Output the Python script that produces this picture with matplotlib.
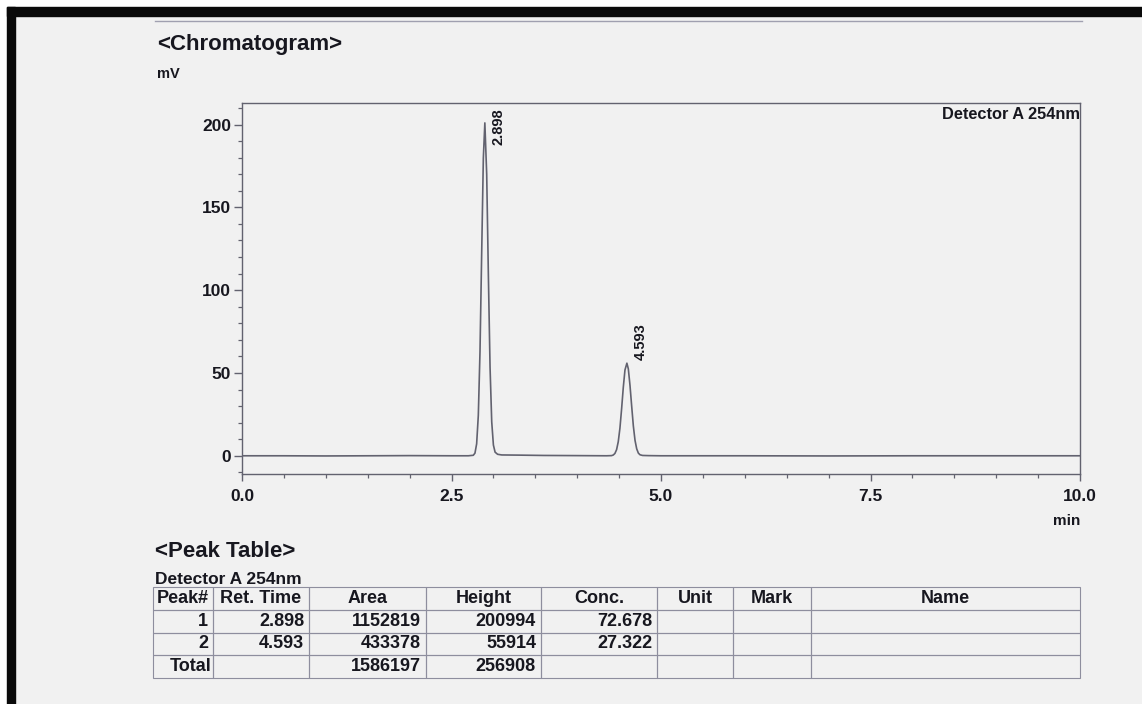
import matplotlib
matplotlib.use('Agg')
import matplotlib.pyplot as plt
from matplotlib.patches import Rectangle
from matplotlib.lines import Line2D
from matplotlib.ticker import MultipleLocator, FormatStrFormatter

plt.rcParams['font.family'] = ['Liberation Sans', 'DejaVu Sans']
plt.rcParams['font.weight'] = 'bold'

# peak table values
peak_no = ['1', '2']
ret_time = [2.898, 4.593]
area = [1152819, 433378]
height = [200994, 55914]
conc = [72.678, 27.322]
headers = ['Peak#', 'Ret. Time', 'Area', 'Height', 'Conc.', 'Unit', 'Mark', 'Name']

# detector A trace (min, mV)
trace_t = [0.00, 0.50, 1.00, 1.50, 2.00, 2.50, 2.70, 2.76, 2.78, 2.80,
           2.82, 2.84, 2.86, 2.88, 2.898, 2.92, 2.94, 2.96, 2.98, 3.00,
           3.02, 3.05, 3.10, 3.30, 3.60, 4.00, 4.35, 4.41, 4.43, 4.45,
           4.47, 4.49, 4.51, 4.53, 4.55, 4.57, 4.593, 4.61, 4.63, 4.65,
           4.67, 4.69, 4.71, 4.73, 4.75, 4.78, 4.85, 5.00, 6.00, 7.00,
           8.00, 9.00, 10.00]
trace_mv = [0.0, 0.0, -0.1, 0.0, 0.1, 0.0, 0.0, 0.3, 1.6, 7.2,
            24.4, 62.7, 121.9, 179.7, 200.994, 170.0, 109.0, 53.5, 20.5, 6.5,
            2.2, 0.9, 0.5, 0.4, 0.2, 0.1, 0.0, 0.1, 0.45, 1.4,
            3.7, 8.5, 16.7, 28.4, 41.3, 51.8, 55.914, 52.5, 42.5, 30.0,
            18.0, 9.3, 4.2, 1.6, 0.6, 0.2, 0.1, 0.0, 0.0, -0.1,
            0.0, 0.0, 0.0]

ink = '#17171f'
line_col = '#62626f'
paper = '#f1f1f1'
W, H = 1142, 704

fig = plt.figure(figsize=(W / 100, H / 100), dpi=100, facecolor=paper)

# scan edges
fig.add_artist(Rectangle((0, 0), 7 / W, 1, transform=fig.transFigure, color='white', zorder=0))
fig.add_artist(Rectangle((0, 1 - 7 / H), 1, 7 / H, transform=fig.transFigure, color='white', zorder=0))
fig.add_artist(Rectangle((7 / W, 0), 8 / W, 1 - 7 / H, transform=fig.transFigure, color='#0a0a0a'))
fig.add_artist(Rectangle((7 / W, 1 - 16 / H), 1, 9 / H, transform=fig.transFigure, color='#0a0a0a'))
fig.add_artist(Line2D([155 / W, 1082 / W], [1 - 21 / H, 1 - 21 / H], transform=fig.transFigure,
                      color='#a0a0b0', lw=1))

# chromatogram
ax = fig.add_axes([242 / W, 1 - 474 / H, (1080 - 242) / W, (474 - 103) / H])
ax.set_facecolor('none')
ax.plot(trace_t, trace_mv, color=line_col, lw=1.2)
ax.set_xlim(0, 10)
ax.set_ylim(-11, 213)

ax.xaxis.set_major_locator(MultipleLocator(2.5))
ax.xaxis.set_minor_locator(MultipleLocator(0.5))
ax.xaxis.set_major_formatter(FormatStrFormatter('%.1f'))
ax.yaxis.set_major_locator(MultipleLocator(50))
ax.yaxis.set_minor_locator(MultipleLocator(10))
ax.yaxis.set_major_formatter(FormatStrFormatter('%d'))
ax.tick_params(axis='x', which='major', direction='out', length=5, width=1,
               color=line_col, labelcolor=ink, labelsize=12.5, pad=6)
ax.tick_params(axis='y', which='major', direction='out', length=6, width=1,
               color=line_col, labelcolor=ink, labelsize=12.5, pad=2)
ax.tick_params(which='minor', direction='out', length=3, width=0.9, color=line_col)
for s in ax.spines.values():
    s.set_color(line_col)
    s.set_linewidth(1)

ax.annotate('Detector A 254nm', xy=(1, 1), xycoords='axes fraction', xytext=(0, -3),
            textcoords='offset points', ha='right', va='top', fontsize=11.8, color=ink)

# retention time labels
ymax = ax.get_ylim()[1]
for rt, h in zip(ret_time, height):
    mv = h / 1000
    if mv > 150:
        ax.annotate(f'{rt:.3f}', xy=(rt, ymax), xytext=(5, -4), textcoords='offset points',
                    rotation=90, ha='left', va='top', fontsize=10.5, color=ink)
    else:
        ax.annotate(f'{rt:.3f}', xy=(rt, mv), xytext=(5, 2), textcoords='offset points',
                    rotation=90, ha='left', va='bottom', fontsize=10.5, color=ink)

fig.text(157 / W, 1 - 50 / H, '<Chromatogram>', fontsize=16, color=ink, va='baseline')
fig.text(157 / W, 1 - 78 / H, 'mV', fontsize=10.5, color=ink, va='baseline')
fig.text(1080 / W, 1 - 525 / H, 'min', fontsize=11, color=ink, ha='right', va='baseline')

# peak table
fig.text(155 / W, 1 - 557 / H, '<Peak Table>', fontsize=16, color=ink, va='baseline')
fig.text(155 / W, 1 - 584 / H, 'Detector A 254nm', fontsize=12.5, color=ink, va='baseline')

rows = []
for n, t, a, h, c in zip(peak_no, ret_time, area, height, conc):
    rows.append([n, f'{t:.3f}', str(a), str(h), f'{c:.3f}', '', '', ''])
rows.append(['Total', '', str(sum(area)), str(sum(height)), '', '', '', ''])

col_px = [60, 96, 117, 115, 116, 76, 78, 269]
tax = fig.add_axes([153 / W, 1 - 678 / H, sum(col_px) / W, (678 - 587) / H])
tax.axis('off')
tbl = tax.table(cellText=rows, colLabels=headers, cellLoc='right', colLoc='center',
                colWidths=[w / sum(col_px) for w in col_px], bbox=[0, 0, 1, 1])
tbl.auto_set_font_size(False)
tbl.set_fontsize(13)
for (r, c), cell in tbl.get_celld().items():
    cell.set_edgecolor('#8e8e9e')
    cell.set_linewidth(0.8)
    cell.set_facecolor('none')
    cell.PAD = (2 if r == 3 and c == 0 else 5) / col_px[c]
    cell.get_text().set_color(ink)
    cell.get_text().set_fontweight('bold')

fig.savefig('out.png', dpi=100, facecolor=paper)
